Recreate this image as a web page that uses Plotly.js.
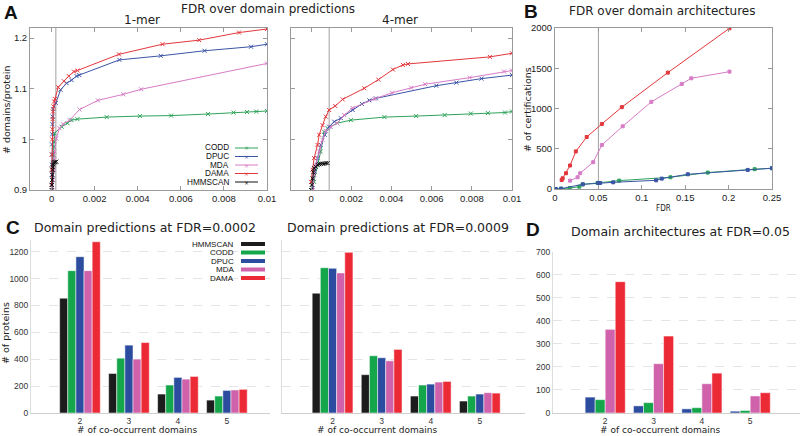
<!DOCTYPE html>
<html>
<head>
<meta charset="utf-8">
<script src="https://cdn.plot.ly/plotly-3.0.1.min.js"></script>
<style>html,body{margin:0;padding:0;background:#fff;}#chart{width:800px;height:436px;}</style>
</head>
<body>
<div id="chart"></div>
<script>
// ---------- Panel A : 1-mer ----------
const mer1_CODD_x = [0.00003,0.00004,0.00005,0.00006,0.00008,0.0001,0.00012,0.00014,0.00047,0.00074,0.00093,0.0012,0.00256,0.0041,0.00555,0.00726,0.00845,0.00907,0.0095,0.01];
const mer1_CODD_y = [0.9,0.92,0.94,0.955,0.97,0.985,0.995,1.012,1.025,1.032,1.038,1.04,1.044,1.046,1.047,1.05,1.053,1.054,1.055,1.056];
const mer1_DPUC_x = [0.0,0.00001,0.00001,0.00002,0.00002,0.00003,0.00004,0.00005,0.00008,0.0002,0.00042,0.0007,0.00093,0.00116,0.00129,0.00315,0.00507,0.0071,0.00926,0.01];
const mer1_DPUC_y = [0.91,0.93,0.95,0.97,0.99,1.01,1.03,1.045,1.06,1.072,1.098,1.111,1.117,1.125,1.127,1.157,1.165,1.175,1.183,1.188];
const mer1_MDA_x = [0.00005,0.00007,0.0001,0.00012,0.00014,0.00022,0.00037,0.00053,0.00084,0.0013,0.00215,0.00333,0.00416,0.01];
const mer1_MDA_y = [0.9,0.92,0.94,0.96,0.976,1.002,1.022,1.03,1.038,1.059,1.077,1.089,1.099,1.15];
const mer1_DAMA_x = [0.0,0.00001,0.00002,0.00003,0.00004,0.00005,0.00007,0.00009,0.00012,0.00016,0.00031,0.00057,0.0008,0.00104,0.0012,0.00313,0.00515,0.00685,0.0087,0.01];
const mer1_DAMA_y = [0.91,0.94,0.97,1.0,1.02,1.04,1.055,1.065,1.075,1.08,1.103,1.115,1.125,1.134,1.136,1.168,1.188,1.196,1.211,1.218];
const mer1_HMMSCAN_x = [0.0,0.00002,0.00003,0.00004,0.00005,0.00006,0.00008,0.0001,0.00014,0.00018,0.00022];
const mer1_HMMSCAN_y = [0.9,0.91,0.92,0.93,0.94,0.945,0.95,0.953,0.955,0.955,0.956];

// ---------- Panel A : 4-mer ----------
const mer4_CODD_x = [0.00005,0.00015,0.00032,0.00048,0.00065,0.00082,0.0013,0.00198,0.00365,0.00523,0.00665,0.00795,0.0088,0.00965,0.01];
const mer4_CODD_y = [0.9,0.916,0.949,0.976,1.015,1.022,1.032,1.038,1.044,1.046,1.048,1.051,1.052,1.053,1.055];
const mer4_DPUC_x = [0.00007,0.00018,0.00032,0.00048,0.00068,0.0009,0.00115,0.00148,0.00207,0.00253,0.0029,0.00323,0.00623,0.00723,0.00848,0.01];
const mer4_DPUC_y = [0.903,0.936,0.963,0.989,1.009,1.025,1.035,1.042,1.058,1.07,1.077,1.081,1.106,1.112,1.12,1.127];
const mer4_MDA_x = [0.0001,0.00015,0.00023,0.0004,0.00057,0.00073,0.00098,0.0013,0.00165,0.00207,0.00315,0.00403,0.00498,0.00568,0.0079,0.0096,0.01];
const mer4_MDA_y = [0.9,0.93,0.949,0.976,0.999,1.017,1.025,1.032,1.048,1.062,1.08,1.092,1.102,1.109,1.122,1.134,1.136];
const mer4_DAMA_x = [0.0,0.00007,0.00015,0.00032,0.0004,0.00057,0.00073,0.0009,0.0012,0.00157,0.00265,0.00335,0.00407,0.00457,0.00482,0.0089,0.01];
const mer4_DAMA_y = [0.916,0.94,0.963,0.989,1.009,1.028,1.045,1.058,1.066,1.079,1.101,1.118,1.138,1.147,1.149,1.163,1.17];
const mer4_HMMSCAN_x = [0.0,0.00003,0.00007,0.00011,0.00015,0.00023,0.00032,0.0004,0.00048,0.00057,0.00065,0.00073,0.00082];
const mer4_HMMSCAN_y = [0.9,0.91,0.923,0.935,0.943,0.946,0.95,0.951,0.952,0.952,0.952,0.953,0.953];

// ---------- Panel B ----------
const arch_DAMA_x = [0.0077,0.0088,0.0127,0.0173,0.024,0.0365,0.054,0.077,0.13,0.201];
const arch_DAMA_y = [112,133,196,292,467,646,808,1017,1446,1996];
const arch_MDA_x = [0.0173,0.026,0.029,0.044,0.054,0.078,0.111,0.146,0.157,0.201];
const arch_MDA_y = [104,146,196,333,546,779,1083,1304,1375,1458];
const arch_CODD_x = [0.0008,0.007,0.017,0.028,0.032,0.049,0.074,0.133,0.176,0.23,0.25];
const arch_CODD_y = [0,4,12,29,58,75,104,146,204,246,258];
const arch_DPUC_x = [0.0008,0.007,0.032,0.05,0.052,0.067,0.1165,0.123,0.153,0.222,0.25];
const arch_DPUC_y = [0,4,58,75,75,83,108,129,183,237,258];

// ---------- Panel C / D ----------
const coDomains = [2,3,4,5];
const c1_HMMSCAN = [854,294,141,96];
const c1_CODD = [1059,408,208,126];
const c1_DPUC = [1163,505,265,168];
const c1_MDA = [1059,401,252,171];
const c1_DAMA = [1274,524,272,176];
const c2_HMMSCAN = [891,285,126,89];
const c2_CODD = [1081,426,208,126];
const c2_DPUC = [1076,411,215,141];
const c2_MDA = [1042,388,230,151];
const c2_DAMA = [1195,473,235,148];
const d_DPUC = [69,31,18,8];
const d_CODD = [58,45,23,11];
const d_MDA = [363,214,127,74];
const d_DAMA = [570,334,173,88];

const thresholdsA = [0.0002, 0.0009];
const thresholdB = 0.05;
const aTicks = [0, 0.002, 0.004, 0.006, 0.008, 0.01];
const aTickText = ['0','0.002','0.004','0.006','0.008','0.01'];
const aYTicks = [0.9, 1.0, 1.1, 1.2];
const aYTickText = ['0.9','1','1.1','1.2'];
const bXTicks = [0,0.05,0.1,0.15,0.2,0.25];
const bXTickText = ['0','0.05','0.1','0.15','0.2','0.25'];
const bYTicks = [0,500,1000,1500,2000];
const cYTicks = [0,200,400,600,800,1000,1200];
const dYTicks = [0,100,200,300,400,500,600,700];

const lineCol = {CODD:'#2ea35a', DPUC:'#3b55a6', MDA:'#d77cc6', DAMA:'#e2373c', HMMSCAN:'#111111'};
const barCol = {HMMSCAN:'#1c1c1c', CODD:'#15a64b', DPUC:'#2c4c9f', MDA:'#cf62ab', DAMA:'#ec2a36'};

const W = 800, H = 436;
const px = v => v / W;
const py = v => 1 - v / H;

const traces = [];
function lineTrace(name, x, y, xa, ya, sym) {
  traces.push({type:'scatter', mode:'lines+markers', name, x, y, xaxis:xa, yaxis:ya,
    line:{color:lineCol[name], width:1}, marker:{symbol:sym, size:sym==='square'?3:4, color:lineCol[name], line:{color:lineCol[name], width:1}},
    showlegend:false, hoverinfo:'skip'});
}
lineTrace('CODD', mer1_CODD_x, mer1_CODD_y, 'x', 'y', 'x-thin');
lineTrace('MDA', mer1_MDA_x, mer1_MDA_y, 'x', 'y', 'x-thin');
lineTrace('DPUC', mer1_DPUC_x, mer1_DPUC_y, 'x', 'y', 'x-thin');
lineTrace('DAMA', mer1_DAMA_x, mer1_DAMA_y, 'x', 'y', 'x-thin');
lineTrace('HMMSCAN', mer1_HMMSCAN_x, mer1_HMMSCAN_y, 'x', 'y', 'x-thin');
lineTrace('CODD', mer4_CODD_x, mer4_CODD_y, 'x2', 'y2', 'x-thin');
lineTrace('DPUC', mer4_DPUC_x, mer4_DPUC_y, 'x2', 'y2', 'x-thin');
lineTrace('MDA', mer4_MDA_x, mer4_MDA_y, 'x2', 'y2', 'x-thin');
lineTrace('DAMA', mer4_DAMA_x, mer4_DAMA_y, 'x2', 'y2', 'x-thin');
lineTrace('HMMSCAN', mer4_HMMSCAN_x, mer4_HMMSCAN_y, 'x2', 'y2', 'x-thin');
lineTrace('CODD', arch_CODD_x, arch_CODD_y, 'x3', 'y3', 'square');
lineTrace('DPUC', arch_DPUC_x, arch_DPUC_y, 'x3', 'y3', 'square');
lineTrace('MDA', arch_MDA_x, arch_MDA_y, 'x3', 'y3', 'square');
lineTrace('DAMA', arch_DAMA_x, arch_DAMA_y, 'x3', 'y3', 'square');

function barTrace(name, y, xa, ya) {
  traces.push({type:'bar', name, x:coDomains, y, xaxis:xa, yaxis:ya,
    marker:{color:barCol[name], line:{color:'#ffffff', width:0.5}}, showlegend:false, hoverinfo:'skip'});
}
barTrace('HMMSCAN', c1_HMMSCAN, 'x4', 'y4');
barTrace('CODD', c1_CODD, 'x4', 'y4');
barTrace('DPUC', c1_DPUC, 'x4', 'y4');
barTrace('MDA', c1_MDA, 'x4', 'y4');
barTrace('DAMA', c1_DAMA, 'x4', 'y4');
barTrace('HMMSCAN', c2_HMMSCAN, 'x5', 'y5');
barTrace('CODD', c2_CODD, 'x5', 'y5');
barTrace('DPUC', c2_DPUC, 'x5', 'y5');
barTrace('MDA', c2_MDA, 'x5', 'y5');
barTrace('DAMA', c2_DAMA, 'x5', 'y5');
barTrace('DPUC', d_DPUC, 'x6', 'y6');
barTrace('CODD', d_CODD, 'x6', 'y6');
barTrace('MDA', d_MDA, 'x6', 'y6');
barTrace('DAMA', d_DAMA, 'x6', 'y6');

const tickFont = {family:'Liberation Sans, Arial, sans-serif', size:9.5, color:'#222'};
const barTickFont = {family:'Liberation Sans, Arial, sans-serif', size:8.5, color:'#333'};
const frameAxis = (extra) => Object.assign({showline:true, linecolor:'#9a9a9a', linewidth:1, mirror:'ticks',
  ticks:'inside', ticklen:4, tickcolor:'#9a9a9a', showgrid:false, zeroline:false, tickfont:tickFont, fixedrange:true}, extra);
const barXAxis = (extra) => Object.assign({showline:true, linecolor:'#cfcfcf', linewidth:1, ticks:'', showgrid:false,
  zeroline:false, tickfont:barTickFont, tickvals:coDomains, ticktext:coDomains.map(String), fixedrange:true}, extra);
const barYAxis = (extra) => Object.assign({showline:true, linecolor:'#dddddd', linewidth:1, ticks:'', showgrid:true,
  gridcolor:'#e4e4e4', griddash:'dash', gridwidth:1, zeroline:false, tickfont:barTickFont, fixedrange:true}, extra);

const layout = {
  width:W, height:H, margin:{l:0,r:0,t:0,b:0}, paper_bgcolor:'#ffffff', plot_bgcolor:'#ffffff',
  showlegend:false, barmode:'group', bargap:0.17, bargroupgap:0,
  xaxis: frameAxis({domain:[px(30),px(267)], range:[-0.001,0.01], tickvals:aTicks, ticktext:aTickText, anchor:'y'}),
  yaxis: frameAxis({domain:[py(190),py(28)], range:[0.9,1.22], tickvals:aYTicks, ticktext:aYTickText, anchor:'x'}),
  xaxis2: frameAxis({domain:[px(291),px(512)], range:[-0.001,0.01], tickvals:aTicks, ticktext:aTickText, anchor:'y2'}),
  yaxis2: frameAxis({domain:[py(190),py(28)], range:[0.9,1.22], tickvals:aYTicks, showticklabels:false, anchor:'x2'}),
  xaxis3: frameAxis({domain:[px(555),px(772)], range:[0,0.25], tickvals:bXTicks, ticktext:bXTickText, anchor:'y3'}),
  yaxis3: frameAxis({domain:[py(189),py(28)], range:[0,2000], tickvals:bYTicks, anchor:'x3'}),
  xaxis4: barXAxis({domain:[px(31),px(270)], range:[1.0,5.88], anchor:'y4'}),
  yaxis4: barYAxis({domain:[py(413),py(240)], range:[0,1287], tickvals:cYTicks, anchor:'x4'}),
  xaxis5: barXAxis({domain:[px(282),px(525)], range:[0.97,5.92], anchor:'y5'}),
  yaxis5: barYAxis({domain:[py(413),py(240)], range:[0,1287], tickvals:cYTicks, showticklabels:false, anchor:'x5'}),
  xaxis6: barXAxis({domain:[px(553),px(800)], range:[0.92,6.03], anchor:'y6'}),
  yaxis6: barYAxis({domain:[py(413),py(251.7)], range:[0,700], tickvals:dYTicks, anchor:'x6'}),
  shapes: [],
  annotations: []
};

// threshold lines
layout.shapes.push({type:'line', xref:'x', yref:'y domain', x0:thresholdsA[0], x1:thresholdsA[0], y0:0, y1:1, line:{color:'#a0a0a0', width:1}, layer:'below'});
layout.shapes.push({type:'line', xref:'x2', yref:'y2 domain', x0:thresholdsA[1], x1:thresholdsA[1], y0:0, y1:1, line:{color:'#a0a0a0', width:1}, layer:'below'});
layout.shapes.push({type:'line', xref:'x3', yref:'y3 domain', x0:thresholdB, x1:thresholdB, y0:0, y1:1, line:{color:'#a0a0a0', width:1}, layer:'below'});

function ann(text, x, y, size, opts) {
  layout.annotations.push(Object.assign({text, xref:'paper', yref:'paper', x:px(x), y:py(y), showarrow:false,
    xanchor:'center', yanchor:'middle', font:{family:'DejaVu Sans, sans-serif', size, color:'#222'}}, opts||{}));
}
const bold = {family:'Liberation Sans, Arial, sans-serif', size:19, color:'#111'};
ann('<b>A</b>', 11, 13, 19, {font:bold});
ann('<b>B</b>', 531, 11, 19, {font:bold});
ann('<b>C</b>', 13, 227, 19, {font:bold});
ann('<b>D</b>', 533, 230, 19, {font:bold});
ann('FDR over domain predictions', 268, 9, 12);
ann('1-mer', 142, 20, 12);
ann('4-mer', 400, 20, 12);
ann('FDR over domain architectures', 662, 11, 12);
ann('FDR', 663, 209, 8, {font:{family:'DejaVu Sans Condensed, DejaVu Sans, sans-serif', size:8, color:'#222'}});
ann('# domains/protein', 7, 110, 9.5, {textangle:-90});
ann('# of certifications', 528, 110, 9.5, {textangle:-90});
ann('Domain predictions at FDR=0.0002', 145, 227, 12.5);
ann('Domain predictions at FDR=0.0009', 398, 227, 12.5);
ann('Domain architectures at FDR=0.05', 680, 231, 12.5);
ann('# of proteins', 5, 333, 9.5, {textangle:-90});
ann('# of co-occurrent domains', 137, 436, 9, {yanchor:'bottom', borderpad:0});
ann('# of co-occurrent domains', 377, 436, 9, {yanchor:'bottom', borderpad:0});
ann('# of co-occurrent domains', 660, 436, 9, {yanchor:'bottom', borderpad:0});

// legend A (text then line sample)
const legendA = ['CODD','DPUC','MDA','DAMA','HMMSCAN'];
legendA.forEach((n, i) => {
  const yy = 148 + i * 8.5;
  ann(n, 231, yy, 8.2, {xanchor:'right', font:{family:'Liberation Sans, Arial, sans-serif', size:8.2, color:'#111'}});
  layout.shapes.push({type:'line', xref:'paper', yref:'paper', x0:px(235), x1:px(258), y0:py(yy), y1:py(yy), line:{color:lineCol[n], width:1}});
  ann('×', 246.5, yy, 6, {font:{family:'DejaVu Sans, sans-serif', size:6, color:lineCol[n]}});
});
// legend C (text then rectangle)
const legendC = ['HMMSCAN','CODD','DPUC','MDA','DAMA'];
legendC.forEach((n, i) => {
  const yy = 244 + i * 8.5;
  ann(n, 236, yy, 8, {xanchor:'right', font:{family:'Liberation Sans, Arial, sans-serif', size:8, color:'#111'}});
  layout.shapes.push({type:'rect', xref:'paper', yref:'paper', x0:px(241), x1:px(265), y0:py(yy+2), y1:py(yy-2), fillcolor:barCol[n], line:{width:0}});
});

Plotly.newPlot('chart', traces, layout, {staticPlot:true, displayModeBar:false});
</script>
</body>
</html>
